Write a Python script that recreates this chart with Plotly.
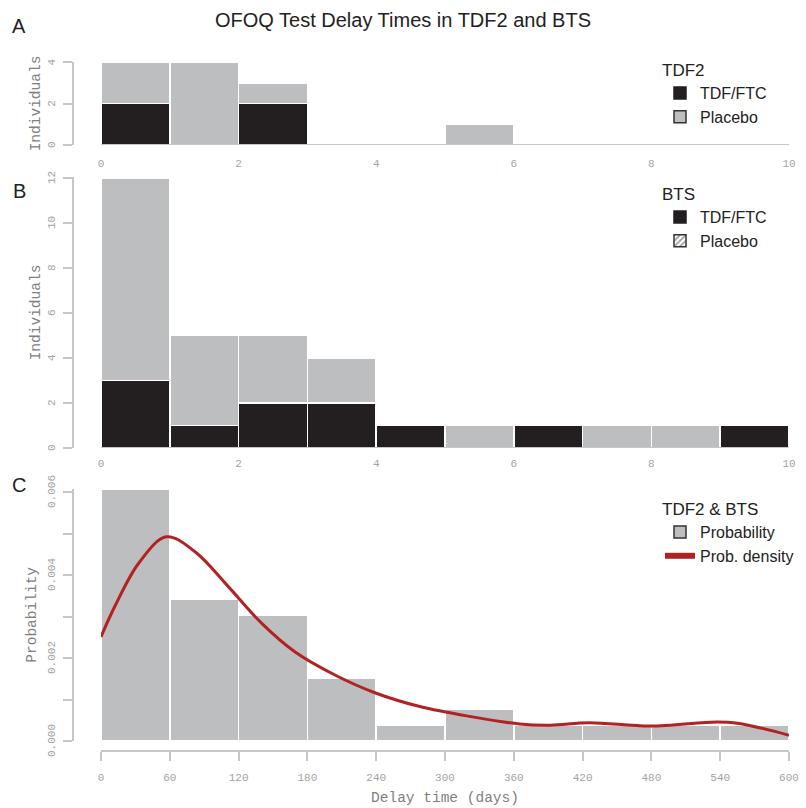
import plotly.graph_objects as go

W, H = 806, 808

# ---------------- data ----------------
# panels A & B: bins of width 1 (0..10)
bin_left = [0, 1, 2, 3, 4, 5, 6, 7, 8, 9]
bin_edges_ab = [0, 10]
tdf2_tdfftc = [2, 0, 2, 0, 0, 0, 0, 0, 0, 0]
tdf2_placebo = [2, 4, 1, 0, 0, 1, 0, 0, 0, 0]
bts_tdfftc = [3, 1, 2, 2, 1, 0, 1, 0, 0, 1]
bts_placebo = [9, 4, 3, 2, 0, 1, 0, 1, 1, 0]
ab_ticks = [0, 2, 4, 6, 8, 10]
a_yticks = [0, 2, 4]
b_yticks = [0, 2, 4, 6, 8, 10, 12]

# panel C: bins of 60 days
delay_bin_left = [0, 60, 120, 180, 240, 300, 360, 420, 480, 540]
delay_bin_width = 60
probability = [0.00606, 0.00341, 0.00303, 0.00152, 0.00038, 0.00076,
               0.00038, 0.00038, 0.00038, 0.00038]
density_days = [0, 12, 33, 57, 82, 111, 140, 169, 204, 240, 278, 322,
                365, 392, 426, 479, 537, 555, 600]
density_vals = [0.00251, 0.00324, 0.00429, 0.00492, 0.00456, 0.00372,
                0.00284, 0.00215, 0.00159, 0.00115, 0.00083, 0.00059,
                0.00041, 0.00038, 0.00044, 0.00036, 0.00046, 0.00043,
                0.00014]
c_xticks = [0, 60, 120, 180, 240, 300, 360, 420, 480, 540, 600]
c_yticks = [0, 0.001, 0.002, 0.003, 0.004, 0.005, 0.006]
c_yticktext = ["0.000", "", "0.002", "", "0.004", "", "0.006"]

# ---------------- style ----------------
DARK = "#231f20"
GRAY = "#bdbebf"
RED = "#b22222"
AXC = "#c6c6c6"
TICKFONT = dict(family="Liberation Mono", size=11, color="#a3a3a3")
TITLEFONT = dict(family="Liberation Mono", size=14.5, color="#808080")
SANS = "Liberation Sans"


def fx(px):
    return px / W


def fy(px):
    return 1 - px / H


centers_ab = [l + 0.5 for l in bin_left]
centers_c = [l + delay_bin_width / 2 for l in delay_bin_left]

fig = go.Figure()

bar_line = dict(color="white", width=1.5)

# ---- Panel A ----
fig.add_trace(go.Scatter(x=bin_edges_ab, y=[0, 0], mode="lines",
                         line=dict(color=AXC, width=2), showlegend=False,
                         hoverinfo="skip", xaxis="x", yaxis="y"))
fig.add_trace(go.Bar(x=centers_ab, y=tdf2_tdfftc, width=1,
                     marker=dict(color=DARK, line=bar_line),
                     showlegend=False, xaxis="x", yaxis="y"))
fig.add_trace(go.Bar(x=centers_ab, y=tdf2_placebo, width=1,
                     marker=dict(color=GRAY, line=bar_line),
                     showlegend=False, xaxis="x", yaxis="y"))
fig.add_trace(go.Bar(x=[None], y=[None], name="TDF/FTC",
                     marker=dict(color=DARK, line=dict(color=DARK, width=1.5)),
                     legend="legend", xaxis="x", yaxis="y"))
fig.add_trace(go.Bar(x=[None], y=[None], name="Placebo",
                     marker=dict(color=GRAY, line=dict(color="#333333", width=1.5)),
                     legend="legend", xaxis="x", yaxis="y"))

# ---- Panel B ----
fig.add_trace(go.Scatter(x=bin_edges_ab, y=[0, 0], mode="lines",
                         line=dict(color=AXC, width=2), showlegend=False,
                         hoverinfo="skip", xaxis="x2", yaxis="y2"))
fig.add_trace(go.Bar(x=centers_ab, y=bts_tdfftc, width=1,
                     marker=dict(color=DARK, line=bar_line),
                     showlegend=False, xaxis="x2", yaxis="y2"))
fig.add_trace(go.Bar(x=centers_ab, y=bts_placebo, width=1,
                     marker=dict(color=GRAY, line=bar_line),
                     showlegend=False, xaxis="x2", yaxis="y2"))
fig.add_trace(go.Bar(x=[None], y=[None], name="TDF/FTC",
                     marker=dict(color=DARK, line=dict(color=DARK, width=1.5)),
                     legend="legend2", xaxis="x2", yaxis="y2"))
fig.add_trace(go.Bar(x=[None], y=[None], name="Placebo",
                     marker=dict(color="white", line=dict(color="#333333", width=1.5),
                                 pattern=dict(shape="/", fgcolor="#9a9a9a",
                                              bgcolor="white", size=5, solidity=0.4)),
                     legend="legend2", xaxis="x2", yaxis="y2"))

# ---- Panel C ----
fig.add_trace(go.Bar(x=centers_c, y=probability, width=delay_bin_width,
                     marker=dict(color=GRAY, line=bar_line),
                     showlegend=False, xaxis="x3", yaxis="y3"))
fig.add_trace(go.Scatter(x=density_days, y=density_vals, mode="lines",
                         line=dict(color=RED, width=3, shape="spline", smoothing=1.0),
                         showlegend=False, xaxis="x3", yaxis="y3"))
fig.add_trace(go.Bar(x=[None], y=[None], name="Probability",
                     marker=dict(color=GRAY, line=dict(color="#333333", width=1.5)),
                     legend="legend3", xaxis="x3", yaxis="y3"))
fig.add_trace(go.Scatter(x=[None], y=[None], name="Prob. density", mode="lines",
                         line=dict(color=RED, width=6),
                         legend="legend3", xaxis="x3", yaxis="y3"))

# ---------------- axes ----------------
xdom = [fx(101), fx(789)]
ypos = fx(73)

common_y = dict(showline=True, linecolor=AXC, linewidth=2, ticks="outside",
                ticklen=9, tickwidth=2, tickcolor=AXC, showticklabels=False,
                showgrid=False, zeroline=False,
                anchor="free", position=ypos, automargin=False)
common_xab = dict(domain=xdom, range=[0, 10], tickvals=ab_ticks, ticks="",
                  showline=False, showgrid=False, zeroline=False,
                  tickfont=TICKFONT, anchor="free", automargin=False)

layout = dict(
    template="none",
    width=W, height=H,
    margin=dict(l=0, r=0, t=0, b=0, pad=0),
    paper_bgcolor="white", plot_bgcolor="white",
    barmode="stack", bargap=0,
    showlegend=True,
    title=dict(text="OFOQ Test Delay Times in TDF2 and BTS", x=0.5, xanchor="center",
               xref="paper", y=fy(20), yanchor="middle", yref="paper",
               font=dict(family=SANS, size=20, color="#222222")),
    xaxis=dict(common_xab, position=fy(145), ticklabelstandoff=10),
    yaxis=dict(common_y, domain=[fy(145), fy(62)], range=[0, 4.02], tickvals=a_yticks,
               title=dict(text="Individuals", font=TITLEFONT, standoff=18)),
    xaxis2=dict(common_xab, position=fy(448), ticklabelstandoff=7),
    yaxis2=dict(common_y, domain=[fy(448), fy(177)], range=[0, 12.05],
                tickvals=b_yticks,
                title=dict(text="Individuals", font=TITLEFONT, standoff=18)),
    xaxis3=dict(domain=xdom, range=[0, 600], tickvals=c_xticks,
                showline=True, linecolor=AXC, linewidth=2, ticks="outside",
                ticklen=9, tickwidth=2, tickcolor=AXC, tickfont=TICKFONT,
                showgrid=False, zeroline=False, anchor="free", position=fy(751),
                ticklabelstandoff=7, automargin=False,
                title=dict(text="Delay time (days)", font=TITLEFONT, standoff=8)),
    yaxis3=dict(common_y, domain=[fy(741), fy(741 - 0.00608 * 41500)],
                range=[0, 0.00608], tickvals=c_yticks,
                title=dict(text="Probability", font=TITLEFONT, standoff=22)),
)

legfont = dict(family=SANS, size=16, color="#222222")
legtitle = dict(family=SANS, size=17, color="#222222")
for key, ytop, title in [("legend", 54, "TDF2"), ("legend2", 178, "BTS"),
                         ("legend3", 493, "TDF2 & BTS")]:
    layout[key] = dict(x=fx(660), y=fy(ytop), xanchor="left", yanchor="top",
                       bgcolor="rgba(0,0,0,0)", font=legfont, traceorder="normal",
                       title=dict(text=title, font=legtitle),
                       itemclick=False, itemdoubleclick=False)

annotations = []
for lab, ypx in [("A", 26), ("B", 191), ("C", 485)]:
    annotations.append(dict(text=lab, x=fx(19), y=fy(ypx), xref="paper", yref="paper",
                            xanchor="center", yanchor="middle", showarrow=False,
                            font=dict(family=SANS, size=20, color="#222222")))

# rotated y tick labels (R style, parallel to the axis)
for yref, vals, texts in [("y", a_yticks, [str(v) for v in a_yticks]),
                          ("y2", b_yticks, [str(v) for v in b_yticks]),
                          ("y3", c_yticks, c_yticktext)]:
    for v, t in zip(vals, texts):
        if not t:
            continue
        annotations.append(dict(text=t, x=fx(52), y=v, xref="paper", yref=yref,
                                xanchor="center", yanchor="middle", textangle=-90,
                                showarrow=False, font=TICKFONT))
layout["annotations"] = annotations

fig.update_layout(**layout)
fig.write_html("out.html", config={"displayModeBar": False, "staticPlot": True},
               post_script="document.body.style.margin='0';document.body.style.padding='0';")
